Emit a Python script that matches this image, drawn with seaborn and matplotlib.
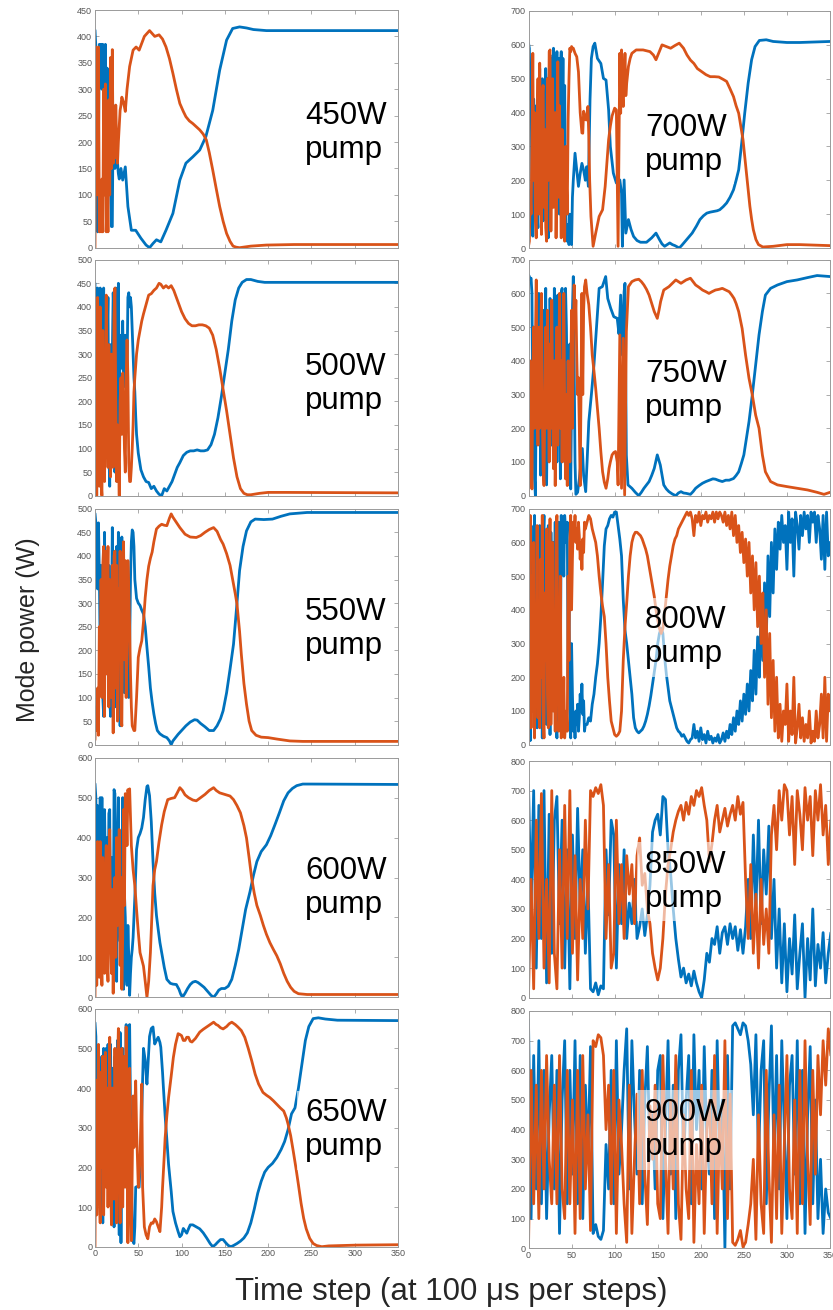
import numpy as np
import matplotlib
matplotlib.use("Agg")
import matplotlib.pyplot as plt
import seaborn as sns

# ---------------- data ----------------
# "fast" = values at consecutive time steps starting at t=0 (step given per panel)
# "_t"/"_v" = later, slower part of the trace at explicit time steps

# 450W
b450_fast = [412,380,300,30,200,385,330,385,300,385,290,310,385,220,340,300,200,320,120,40,40,270,250,150,210,180,160,140,130]
b450_t = [30,32,35,38,42,47,53,59,63,67,71,76,82,90,98,105,113,121,128,136,144,152,159,167,175,183,198,230,350]
b450_v = [150,128,153,78,33,33,18,5,0,8,15,11,33,65,128,160,172,185,210,260,336,393,415,418,416,413,411,411,411]
o450_fast = [0,380,130,100,380,30,120,30,130,30,300,100,310,30,130,30,280,100,360,150,375,160,220,170,270,200,160,200,230,260,270,285]
o450_t = [33,35,37,40,44,47.5,51,57,63,69,74,78,82,86,90,94,98,102,105,109,113,117,121,125,128.6,132,136,140,144,148,152,156,159.5,163,167,180,198,230,350]
o450_v = [275,258,300,343,374,380,374,400,411,400,403,395,380,358,330,300,273,258,248,240,235,229,223,215,204,180,147,112,78,50,27,12,3,1,0,3,5,6,6]

# 500W
b500_fast = [450,300,40,440,200,30,440,260,420,130,440,250,80,200,330,420,100,20,320,160,300,430,380,50,440,300,30,450,200,320,340,270,370,230,280,340,320,260,420,430,400]
b500_t = [41,42,43,44,45,46,47,48,50,53,56,59,62,65,68,71,74,77,80,83,86,89,92,95,98,102,106,110,114,118,122,126,130,134,138,142,146,150,154,158,162,166,170,175,180,188,196,220,350]
b500_v = [420,400,350,300,250,220,170,130,90,55,40,30,28,15,20,10,3,0,15,10,20,30,45,60,70,85,92,95,95,97,95,95,97,108,130,165,210,260,310,370,415,440,452,458,458,454,452,452,452]
o500_fast = [10,200,0,420,100,20,400,30,0,350,160,30,200,425,250,60,320,150,40,300,200,60,380,440,200,30,150,100,0,200,250,130,260,200,100,50,250,330,250,70,30,30,60]
o500_t = [43,44,45,46,48,50,52,54,56,59,62,65,68,71,74,76,79,82,85,88,91,94,97,100,104,108,112,116,120,124,128,132,136,140,144,148,152,156,160,164,168,172,176,180,190,200,220,350]
o500_v = [100,150,220,250,300,330,350,370,385,405,425,428,435,440,450,448,440,445,440,445,435,420,405,390,375,365,360,360,362,362,360,355,340,310,270,225,180,130,80,40,15,5,2,2,5,7,7,6]

# 550W
b550_fast = [490,470,440,330,470,360,200,380,120,100,60,450,280,150,330,200,380,100,60,250,460,300,180,80,350,420,150,450,200,40,330,440,200,390,110,300,360,180,250,100,200,350,430,455,450,420]
b550_t = [46,48,50,52,54,56,58,60,62,64,66,68,70,72,75,79,83,86,88,90,93,96,100,105,110,115,118,122,127,132,137,141,145,148,152,156,160,164,167,171,175,180,185,195,205,215,225,245,350]
b550_v = [350,310,300,295,285,277,250,206,165,120,90,65,45,30,23,18,15,8,0,8,15,22,30,40,48,53,52,45,38,30,30,40,55,72,110,160,213,300,369,420,453,472,478,477,478,484,489,492,492]
o550_fast = [10,80,30,120,20,250,130,350,100,380,420,60,410,150,300,420,80,350,230,100,380,25,400,410,120,380,50,330,200,410,60,40,300,430,180,390,100,200,390,330,250,150,80,40,35,30]
o550_t = [46,48,50,52,54,56,58,60,62,64,66,68,71,74,77,80,83,86,88,90,94,98,104,110,117,122,127,132,137,141,145,148,152,156,159,162,164,167,169,172,175,178,181,186,192,200,210,225,240,350]
o550_v = [30,100,185,205,220,260,312,350,378,395,408,430,457,463,467,465,464,480,489,482,471,460,446,440,439,443,450,456,460,452,435,425,405,380,350,320,298,240,192,130,86,50,30,20,16,15,12,8,7,7]

# 600W
b600_fast = [535,500,260,480,310,260,500,330,500,280,200,470,330,270,400,150,460,470,120,350,300,120,520,510,250,40,380,500,200,140,300,180,500,20,260,200,60,30,180,100,5,60,100,120]
b600_t = [44,46,48,50,52,54,56,58,60,61,63,65,67,69,71,73,75,78,80,83,87,90,94,97,99,101,104,107,110,113,116,119,122,126,130,134,137,140,143,146,150,154,158,162,166,170,174,179,183,187,192,198,203,208,213,218,223,228,233,240,250,350]
b600_v = [150,250,370,400,410,424,450,495,528,530,505,440,340,260,205,170,137,100,75,45,35,33,32,20,8,0,10,22,32,38,40,37,32,25,15,5,0,8,18,22,22,28,45,80,120,170,220,264,305,340,365,382,405,433,462,492,512,523,530,534,534,533]
o600_fast = [0,300,30,390,100,50,390,120,30,350,200,60,300,380,100,40,330,420,150,60,270,10,200,300,100,400,180,200,420,80,300,20,150,470,230,510,470,380,520,500,522]
o600_t = [42,44,46,48,50,52,54,56,58,60,62,64,66,67,69,71,74,77,80,84,88,92,95,98,101,104,108,113,117,122,127,132,137,140,144,150,156,160,164,168,172,175,178,181,184,187,191,194.5,198,202,206,210,214,218,222,226,230,235,245,350]
o600_v = [380,320,280,220,163,112,95,78,40,0,40,112,220,280,320,340,390,432,465,495,498,500,512,525,518,507,500,494,492,500,508,518,525,518,512,508,504,495,480,462,430,399,350,298,260,230,205,180,158,137,120,104,84,60,40,25,15,9,7,7]

# 650W
b650_fast = [565,530,300,470,200,410,450,290,480,60,500,350,180,500,250,510,180,420,510,100,450,290,50,480,100,400,520,220,30,540,10,380,500,150,450,300,560,200,380,550,560,350,200,60,15,8]
b650_t = [46,47,49,51,53,55,56,58,60,61,63,65,67,69,71,73,75,76,78,79,81,83,85,88,90,93,96,98,100,102,104,106,108,110,113,117,121,125,129,133,136,139,142,145,148,151,154,157,160,164,168,172,176,180,184,188,192,196,200,205,210,215,219,223,227,231,235,239,243,247,252,258,266,280,350]
b650_v = [50,150,152,150,250,420,500,470,410,450,530,550,554,511,520,528,515,503,440,402,330,270,207,140,89,60,38,25,30,46,40,34,45,55,55,50,45,35,22,8,0,5,12,18,18,10,3,0,3,8,14,22,35,60,95,135,165,188,200,210,225,245,265,295,335,350,400,460,520,555,575,577,574,571,570]
o650_fast = [0,420,80,300,510,150,60,440,200,480,80,300,490,150,400,100,350,528,200,55,400,250,120,500,300,60,450,550,200,60,350,500,100,300,480,150,554,250,10,300,450,100,15,200,380,250]
o650_t = [46,47,48,50,52,54,55,57,59,61,63,65,67,69,71,73,75,77,78,80,81,83,85,88,90.5,93,96,98,100,102,104,106,108,110,112,116,121,125,129,133,137,140,142,145,148,152,155,158,162,165,169,173,177,181,185,189,194,198,202,206,210,214,218,221,223,226,229,232,235,238,241,244,248,252,256,262,270,302,350]
o650_v = [350,418,300,150,220,410,150,50,30,20,50,60,59,70,63,50,38,100,148,230,274,330,376,430,477,510,537,535,532,520,520,528,528,518,516,525,541,548,554,560,566,560,558,552,549,555,562,566,560,554,545,528,500,469,435,410,389,382,376,368,359,350,342,325,309,280,241,200,156,110,72,45,21,8,3,0,2,4,5]

# 700W
b700_fast = [605,590,440,500,150,35,440,350,170,420,100,60,380,530,120,250,500,80,440,160,530,300,200,30,500,570,380,560,400,590,200,560,480,580,350,560,100,530,580,300,560,200,480,150,30,20,70,10,100,20,10,150]
b700_t = [52,54,56,58,60,62,64,66,67.5,69.5,71.4,73,75,77,80,84,87,90,93,95,98.5,102,106,108,109,111,113,116,119,122,126,130,137,143,148,152,155,158,161,164,167,170,175,178,182,186,190,195,199,203,207,211,215,219,222,226,230,234,238,241,244,247.5,251,255,259,263,268,276,284,300,315,350]
b700_v = [200,280,230,182,220,250,230,200,240,182,437,560,595,605,560,545,501,496,408,300,221,192,201,162,5,201,44,84,55,34,22,17,17,30,44,25,12,5,10,15,10,7,0,8,20,32,44,65,84,95,103,106,108,110,113,122,133,150,172,200,231,310,398,487,556,595,613,615,610,607,607,610]
o700_fast = [5,20,170,100,300,575,200,400,80,30,350,500,100,546,250,40,450,480,120,350,60,20,500,200,580,585,50,300,500,120,250,400,30,240,550,150,420,230,30,350,230,40,20,300,200,100,380,500,590,580,595,590]
o700_t = [52,54,56,58,60,62,63,64,66,67,69,70,71,72.5,75,78,82,86,89,91,93,95,97,100,102,103,104,105,106,107,108,109,110,111,112,113,114,116,118,120,125,133,141,145,148,151,155,160,165,170,175,180,184,188,192,196,201,206,211,216,221,226,230,234,238,241,244,247,249,251,253,255,257,259,261,264,267,272,284,300,315,350]
o700_v = [590,575,565,520,400,340,339,404,380,378,418,330,200,93,5,44,93,113,182,250,320,360,390,413,408,200,5,300,575,398,585,450,418,500,575,450,487,536,560,575,585,585,580,570,556,575,600,595,590,598,605,590,570,555,545,530,521,512,506,506,505,498,492,470,447,420,398,350,320,270,221,170,123,85,54,25,10,3,5,10,10,7]

# 750W
b750_fast = [655,650,640,645,600,200,500,50,0,300,500,200,600,585,61,400,300,550,100,450,615,32,300,500,200,585,400,150,500,250,615,350,520,100,595,300,480,50,600,615,250,400,100,615,500,300,150,50,450,20,300,550,650,400,100]
b750_t = [55,57,59,61,62.5,64,66.4,68,70,73,76,79,82,85.7,89.6,92,95.4,99,103,105,107,109,111,112,113.6,115.5,120,124,128,131,134,137,140,143,146,149.5,153,157,160,163,167,171,174,177,180,183,188,191,194,198,202,206,210,214,217,221,225,229,233,238,241,244,247,250,253,256,259.8,263.7,267.6,271.5,275,281,289,300,312,324,335,350]
b750_v = [4,10,50,100,140,60,12,100,220,300,388,500,615,620,650,585,556,531,526,480,595,417,605,630,120,32,22,10,0,10,22,32,42,60,81,121,91,32,20,12,5,0,8,12,8,7,4,12,22,30,37,42,46,50,49,45,42,46,46,51,60,71,95,121,170,220,299,388,477,546,595,615,625,635,640,647,653,650]
o750_fast = [0,150,400,100,20,350,500,200,450,640,300,150,500,200,400,600,250,80,30,300,500,200,550,350,100,450,200,580,300,80,400,30,250,500,150,300,600,200,400,100,350,600,250,50,300,30,400,250,100,350,550,200,450,625,500,580,420,300,350,200,30]
o750_t = [62,63,64,65,66.4,68,70,72,74,76,78,80,82,84,86,88,90,92,93.5,95,97,99,101,103,104,106,108,110,111.6,113.6,116,120,124,128,131,134,137,140,143,146,149.5,151.5,153.4,157,160,163,167,171,174,177,180,183,188,191,194,198,202,206,209.5,213,217,221,225,229,233,236,238.6,241,244,248,252,256,259.8,263.7,267.6,271.5,275,281,289,300,312,324,335,343,350]
o750_v = [600,300,550,620,640,600,566,500,417,370,318,260,200,130,71,40,22,50,81,100,121,128,131,100,32,477,22,467,2,487,620,635,640,642,635,625,612,595,570,546,526,550,576,610,615,620,630,640,635,630,635,640,645,635,625,618,610,605,600,605,610,612,615,610,605,595,585,570,546,496,417,348,299,239,200,121,71,42,32,27,22,17,10,4,10]

# 800W  (fast: t = 0..66 ; slow: t = 68, 70, ... 350)
b800_fast = [690,300,12,650,200,600,100,680,400,550,50,620,300,650,150,500,20,600,680,250,450,60,560,650,200,30,630,480,100,600,350,660,80,20,400,660,620,200,680,550,650,500,680,640,600,660,200,450,100,20,300,150,40,80,20,100,60,120,40,80,150,100,180,90,130,40,60]
b800_slow = [60,80,70,120,150,200,240,300,380,480,
             590,640,650,670,680,675,690,690,650,610,
             560,430,340,300,250,200,150,80,50,40,
             35,40,45,55,70,90,115,145,180,215,
             250,300,330,345,330,260,210,170,130,110,
             90,70,50,40,35,25,30,20,10,5,
             15,20,60,20,40,10,50,15,30,5,
             40,15,25,5,20,10,30,5,15,35,
             10,40,20,60,30,80,40,100,60,130,
             70,150,90,180,100,220,130,280,150,320,
             200,400,250,480,300,560,380,600,450,640,
             520,660,580,680,600,650,520,690,600,670,
             500,690,650,580,680,620,690,640,680,600,
             690,660,690,600,680,640,550,680,520,690,
             560,600]
o800_fast = [0,400,680,50,500,100,600,20,300,150,650,80,400,50,550,200,680,100,20,450,250,640,150,50,500,670,60,220,600,100,350,40,620,680,300,40,80,500,20,150,50,200,20,60,100,40,500,250,600,680,400,550,660,620,680,600,640,580,660,620,550,600,520,610,570,660,640]
o800_slow = [660,680,670,640,620,600,560,500,450,410,
             380,300,200,130,70,50,30,25,30,40,
             100,250,350,420,500,560,600,620,630,630,
             625,620,610,595,580,560,530,500,470,440,
             400,370,345,330,345,390,440,490,530,560,
             590,610,620,640,650,660,670,680,690,680,
             690,670,620,680,660,690,650,680,670,690,
             660,680,670,690,660,690,670,690,680,660,
             690,650,680,640,690,620,680,600,650,570,
             630,540,610,500,600,450,560,400,540,350,
             500,300,450,200,400,120,330,80,250,40,
             200,20,120,10,100,60,180,10,100,30,
             200,5,50,120,20,80,10,60,20,100,
             5,40,10,100,20,60,150,20,200,10,
             150,100]

# 850W  (t = 0, 3, 6, ...)
b850 = [720,300,700,100,650,200,700,50,620,150,
        600,680,250,600,100,500,30,550,200,640,
        300,500,150,400,30,20,50,10,40,30,
        500,280,600,550,100,450,250,500,200,320,
        250,400,200,240,300,210,280,380,560,600,
        620,550,680,670,500,420,300,200,130,70,
        100,50,80,40,90,50,20,0,60,150,
        120,200,180,240,150,220,240,180,250,200,
        240,160,230,150,240,400,200,550,300,600,
        250,500,350,580,200,400,100,300,50,250,
        20,200,80,280,30,150,250,0,200,60,
        300,40,180,100,220,50,150,220]
o850 = [10,400,30,600,200,690,100,400,50,700,
        150,30,500,100,650,200,700,150,480,60,
        400,200,600,300,700,680,710,690,720,650,
        200,450,100,150,600,250,450,200,480,350,
        450,250,480,540,380,420,300,250,150,100,
        60,100,200,350,450,500,560,600,630,650,
        600,660,620,680,650,700,680,710,650,600,
        460,520,600,650,560,600,640,580,620,650,
        600,680,620,660,400,200,450,150,350,100,
        400,180,300,150,550,650,500,700,600,720,
        700,550,680,450,700,620,500,710,600,680,
        480,700,600,720,550,650,450,600]

# 900W  (t = 0, 3, 6, ...)
b900 = [770,100,650,200,700,150,600,100,450,650,
        200,600,50,500,700,150,600,250,700,150,
        650,100,550,300,680,50,80,40,30,60,
        350,200,600,150,700,250,400,600,740,200,
        700,450,250,600,150,500,680,300,450,200,
        600,650,100,400,700,250,550,100,600,720,
        300,500,650,150,720,400,600,200,680,350,
        250,600,100,700,300,500,0,650,200,750,
        760,740,720,760,750,700,620,450,720,300,
        600,700,150,500,750,300,650,200,700,400,
        100,550,650,250,700,150,600,50,450,680,
        150,500,100,300,50,200,120,100]
o900 = [0,600,150,550,100,600,200,650,300,150,
        550,150,650,200,100,600,150,500,50,600,
        100,650,200,450,60,700,680,720,710,650,
        400,550,150,600,50,500,350,150,20,550,
        50,300,520,150,600,250,80,480,300,550,
        150,100,650,300,50,500,200,650,150,30,
        450,200,100,600,20,350,150,550,50,400,
        500,150,650,50,450,200,700,100,520,20,
        10,30,60,5,20,80,150,300,30,450,
        150,50,600,250,20,450,100,550,50,350,
        650,200,100,500,50,600,150,700,300,80,
        600,250,650,450,700,550,740,650]

labels = ["450W", "500W", "550W", "600W", "650W", "700W", "750W", "800W", "850W", "900W"]
ymaxes = [450, 500, 500, 600, 600, 700, 700, 700, 800, 800]
ysteps = [50, 50, 50, 100, 100, 100, 100, 100, 100, 100]
xticks = [0, 50, 100, 150, 200, 250, 300, 350]


def build(fast, t_slow=(), v_slow=(), step=1):
    if len(t_slow) != len(v_slow):
        raise ValueError(f"length mismatch {len(t_slow)} vs {len(v_slow)}")
    t = list(np.arange(len(fast)) * step) + list(t_slow)
    v = list(fast) + list(v_slow)
    return np.array(t, float), np.array(v, float)


series = [
    (build(b450_fast, b450_t, b450_v), build(o450_fast, o450_t, o450_v)),
    (build(b500_fast, b500_t, b500_v), build(o500_fast, o500_t, o500_v)),
    (build(b550_fast, b550_t, b550_v), build(o550_fast, o550_t, o550_v)),
    (build(b600_fast, b600_t, b600_v), build(o600_fast, o600_t, o600_v)),
    (build(b650_fast, b650_t, b650_v), build(o650_fast, o650_t, o650_v)),
    (build(b700_fast, b700_t, b700_v), build(o700_fast, o700_t, o700_v)),
    (build(b750_fast, b750_t, b750_v), build(o750_fast, o750_t, o750_v)),
    (build(b800_fast, np.arange(68, 68 + 2 * len(b800_slow), 2), b800_slow),
     build(o800_fast, np.arange(68, 68 + 2 * len(o800_slow), 2), o800_slow)),
    (build(b850, step=3), build(o850, step=3)),
    (build(b900, step=3), build(o900, step=3)),
]

# ---------------- style / layout ----------------
sns.set_theme(style="white")
plt.rcParams["font.family"] = ["Liberation Sans", "DejaVu Sans"]

W, H = 833, 1310
fig = plt.figure(figsize=(W / 100, H / 100), dpi=100)

BLUE = "#0072BD"
ORANGE = "#D95319"

col_x = [(95, 398), (528.5, 830)]
rows_left = [(10, 247.7), (259.7, 495.7), (508.7, 744.7), (757.7, 997.3), (1008.7, 1246.7)]
rows_right = [(11, 248), (259.7, 495.7), (508.7, 744.7), (761, 997.7), (1011, 1248.3)]
text_pos = [(0.693, 0.483), (0.693, 0.473), (0.693, 0.49), (0.693, 0.456), (0.693, 0.49),
            (0.386, 0.435), (0.386, 0.444), (0.386, 0.456), (0.386, 0.489), (0.386, 0.4985)]

for i, lab in enumerate(labels):
    col = 0 if i < 5 else 1
    row = i % 5
    x0, x1 = col_x[col]
    top, bot = (rows_left if col == 0 else rows_right)[row]
    ax = fig.add_axes([x0 / W, 1 - bot / H, (x1 - x0) / W, (bot - top) / H])
    (tb, vb), (to, vo) = series[i]
    sns.lineplot(x=tb, y=vb, ax=ax, color=BLUE, lw=2.0, sort=False, estimator=None, legend=False)
    sns.lineplot(x=to, y=vo, ax=ax, color=ORANGE, lw=2.0, sort=False, estimator=None, legend=False)
    ax.set_xlim(0, 350)
    ax.set_ylim(0, ymaxes[i])
    ax.set_xticks(xticks)
    ax.set_yticks(np.arange(0, ymaxes[i] + 1, ysteps[i]))
    ax.set_xlabel("")
    ax.set_ylabel("")
    ax.tick_params(direction="in", length=3, width=0.5, colors="#8a8a8a",
                   labelcolor="#555555", labelsize=6.5, pad=2,
                   top=True, right=True, bottom=True, left=True)
    if row != 4:
        ax.tick_params(labelbottom=False)
    for s in ax.spines.values():
        s.set_color("#9a9a9a")
        s.set_linewidth(0.7)
    tx, ty = text_pos[i]
    ax.text(tx, ty, f"{lab}\npump", transform=ax.transAxes, ha="left", va="center",
            fontsize=22.5, color="black", linespacing=1.15, zorder=5,
            bbox=dict(boxstyle="square,pad=0.25", fc="white", ec="none", alpha=0.6))

fig.text(28 / W, 1 - 630 / H, "Mode power (W)", rotation=90, ha="center", va="center", fontsize=18)
fig.text(451 / W, 1 - 1300 / H, "Time step (at 100 μs per steps)", ha="center", va="baseline", fontsize=22.5)

fig.savefig("out.png", dpi=100)
